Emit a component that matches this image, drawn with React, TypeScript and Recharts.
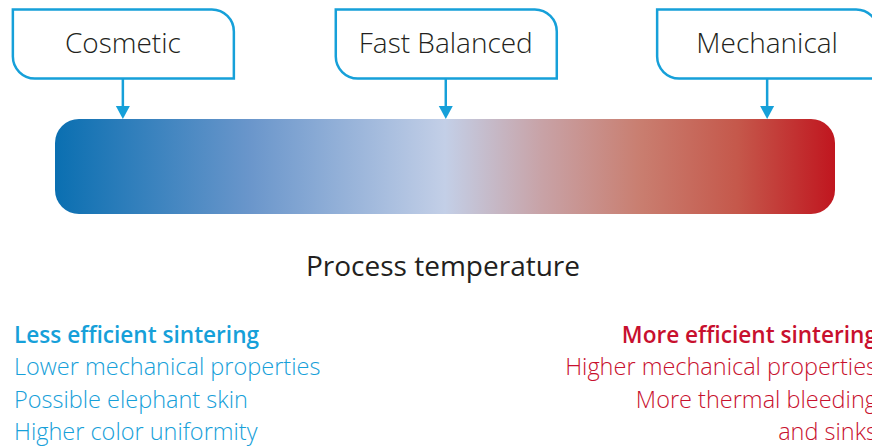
import React from "react";
import { ComposedChart, Bar, XAxis, YAxis, ReferenceDot } from "recharts";

// Relative process temperature scale (0 = coolest, 100 = hottest)
const scaleDomain: [number, number] = [0, 100];
const barRows = [{ name: "Process temperature", range: [0, 100] as [number, number] }];

// Print modes and their position on the temperature scale
const modeNames = ["Cosmetic", "Fast Balanced", "Mechanical"];
const modeTemps = [8.7, 50.1, 91.3];

// Gradient stops along the temperature bar
const gradOffsets = [0, 0.25, 0.5, 0.625, 0.75, 0.875, 1];
const gradColors = ["#0a6fb1", "#6a96cb", "#c3cfe7", "#c8a2a6", "#c97e70", "#c5584b", "#c0161f"];

const axisTitle = "Process temperature";
const leftLines = [
  "Less efficient sintering",
  "Lower mechanical properties",
  "Possible elephant skin",
  "Higher color uniformity",
];
const rightLines = [
  "More efficient sintering",
  "Higher mechanical properties",
  "More thermal bleeding",
  "and sinks",
];

const FONT = "'Open Sans', 'DejaVu Sans', sans-serif";
const CYAN = "#16a0d9";
const RED = "#c8102e";

const TempBar = (props: any) => {
  const { x, y, width, height } = props;
  return (
    <g>
      <defs>
        <linearGradient id="tempGrad" x1="0" y1="0" x2="1" y2="0">
          {gradOffsets.map((o, i) => (
            <stop key={i} offset={o} stopColor={gradColors[i]} />
          ))}
        </linearGradient>
      </defs>
      <rect x={x} y={y} width={width} height={height} rx={24} ry={24} fill="url(#tempGrad)" />
    </g>
  );
};

const makeModeShape = (label: string) => (props: any) => {
  const { cx, cy } = props;
  const barTop = cy - 47.5;
  const top = cy - 157;
  const bottom = cy - 88;
  const left = cx - 110;
  const right = cx + 111;
  const r = 22;
  const d = `M ${left} ${top} H ${right - r} A ${r} ${r} 0 0 1 ${right} ${top + r} V ${bottom} H ${left + r} A ${r} ${r} 0 0 1 ${left} ${bottom - r} Z`;
  return (
    <g>
      <path d={d} fill="#ffffff" stroke={CYAN} strokeWidth={2.5} />
      <line x1={cx} y1={bottom} x2={cx} y2={barTop - 12} stroke={CYAN} strokeWidth={2.5} />
      <path d={`M ${cx - 7} ${barTop - 13} L ${cx + 7} ${barTop - 13} L ${cx} ${barTop} Z`} fill={CYAN} />
      <text
        x={cx}
        y={cy - 113.5}
        textAnchor="middle"
        fontFamily={FONT}
        fontWeight={300}
        fontSize={28}
        fill="#231f20"
      >
        {label}
      </text>
    </g>
  );
};

export default function App() {
  return (
    <div
      style={{
        position: "fixed",
        top: 0,
        left: 0,
        width: 872,
        height: 446,
        overflow: "hidden",
        background: "#ffffff",
      }}
    >
      <ComposedChart
        width={872}
        height={446}
        layout="vertical"
        data={barRows}
        margin={{ top: 119, bottom: 232, left: 55, right: 37 }}
        barCategoryGap={0}
      >
        <XAxis type="number" domain={scaleDomain} hide />
        <YAxis type="category" dataKey="name" hide />
        <Bar dataKey="range" isAnimationActive={false} shape={TempBar} />
        {modeNames.map((m, i) => (
          <ReferenceDot
            key={m}
            x={modeTemps[i]}
            y={barRows[0].name}
            r={1}
            ifOverflow="visible"
            shape={makeModeShape(m)}
          />
        ))}
      </ComposedChart>
      <svg
        width={872}
        height={446}
        style={{ position: "absolute", top: 0, left: 0, pointerEvents: "none" }}
      >
        <text x={443} y={276} textAnchor="middle" fontFamily={FONT} fontSize={28} fill="#231f20">
          {axisTitle}
        </text>
        {leftLines.map((t, i) => (
          <text
            key={t}
            x={14}
            y={343 + i * 32.4}
            fontFamily={FONT}
            fontSize={i === 0 ? 22.6 : 23.5}
            fontWeight={i === 0 ? 600 : 300}
            fill={CYAN}
          >
            {t}
          </text>
        ))}
        {rightLines.map((t, i) => (
          <text
            key={t}
            x={877}
            y={343 + i * 32.4}
            textAnchor="end"
            fontFamily={FONT}
            fontSize={i === 0 ? 22.6 : 23.5}
            fontWeight={i === 0 ? 600 : 300}
            fill={RED}
          >
            {t}
          </text>
        ))}
      </svg>
    </div>
  );
}
